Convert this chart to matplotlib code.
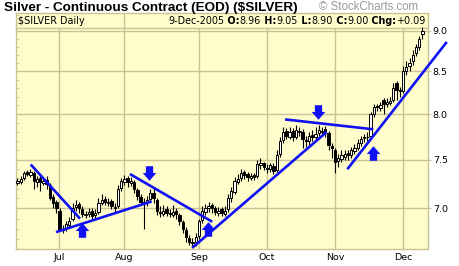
import matplotlib
matplotlib.use("Agg")
import matplotlib.pyplot as plt
import numpy as np
import pandas as pd
from matplotlib.path import Path

# ---------------- data ----------------
start_date = "2005-06-14"
end_date = "2005-12-09"
holidays = ["2005-07-04", "2005-09-05", "2005-11-24"]

opens = [7.26, 7.27, 7.31, 7.37, 7.34, 7.36, 7.27, 7.31, 7.26, 7.29,
         7.24, 7.11, 7.06, 6.98, 6.79, 6.81, 6.84, 6.90, 7.01, 7.04,
         6.99, 6.94, 6.95, 6.98, 6.94, 6.97, 7.05, 7.09, 7.05, 7.07,
         7.01, 7.02, 7.21, 7.27, 7.31, 7.26, 7.27, 7.19, 7.11, 7.06,
         7.06, 7.09, 7.16, 7.08, 6.97, 6.95, 6.99, 6.96, 6.94, 6.98,
         6.94, 6.87, 6.79, 6.71, 6.68, 6.68, 6.73, 6.89, 6.97, 7.00,
         7.03, 7.00, 6.96, 6.99, 6.95, 6.99, 7.10, 7.17, 7.27, 7.31,
         7.37, 7.35, 7.31, 7.34, 7.33, 7.44, 7.46, 7.41, 7.40, 7.43,
         7.39, 7.56, 7.71, 7.81, 7.75, 7.81, 7.75, 7.81, 7.80, 7.71,
         7.70, 7.77, 7.74, 7.79, 7.81, 7.83, 7.79, 7.65, 7.60, 7.49,
         7.51, 7.53, 7.57, 7.55, 7.59, 7.63, 7.68, 7.73, 7.74, 7.76,
         8.00, 8.09, 8.07, 8.16, 8.12, 8.13, 8.16, 8.36, 8.28, 8.26,
         8.50, 8.56, 8.62, 8.72, 8.80, 8.96]
highs = [7.31, 7.33, 7.38, 7.39, 7.40, 7.38, 7.33, 7.34, 7.31, 7.33,
         7.26, 7.14, 7.08, 7.00, 6.84, 6.88, 6.92, 7.05, 7.08, 7.06,
         7.02, 6.98, 7.00, 7.00, 6.99, 7.10, 7.14, 7.12, 7.10, 7.09,
         7.05, 7.24, 7.31, 7.34, 7.33, 7.32, 7.29, 7.21, 7.14, 7.10,
         7.12, 7.20, 7.22, 7.10, 7.02, 7.03, 7.02, 6.99, 7.03, 7.00,
         6.96, 6.89, 6.82, 6.74, 6.71, 6.76, 6.90, 7.02, 7.04, 7.06,
         7.05, 7.02, 7.01, 7.01, 7.02, 7.14, 7.22, 7.32, 7.35, 7.40,
         7.39, 7.37, 7.36, 7.36, 7.50, 7.52, 7.48, 7.45, 7.47, 7.46,
         7.60, 7.74, 7.86, 7.84, 7.85, 7.84, 7.88, 7.86, 7.83, 7.76,
         7.80, 7.82, 7.85, 7.88, 7.86, 7.87, 7.81, 7.68, 7.62, 7.56,
         7.60, 7.60, 7.60, 7.64, 7.67, 7.72, 7.76, 7.78, 7.80, 8.02,
         8.12, 8.12, 8.14, 8.18, 8.18, 8.20, 8.36, 8.38, 8.31, 8.56,
         8.62, 8.66, 8.76, 8.84, 8.94, 9.05]
lows = [7.24, 7.25, 7.29, 7.33, 7.32, 7.20, 7.22, 7.18, 7.24, 7.20,
        7.08, 7.00, 6.96, 6.78, 6.76, 6.78, 6.82, 6.88, 6.98, 6.96,
        6.92, 6.91, 6.92, 6.90, 6.91, 6.95, 7.03, 7.03, 7.02, 6.99,
        6.97, 7.00, 7.18, 7.24, 7.22, 7.23, 7.15, 7.08, 7.03, 6.80,
        7.02, 7.06, 7.05, 6.94, 6.92, 6.93, 6.93, 6.92, 6.92, 6.90,
        6.84, 6.76, 6.68, 6.65, 6.63, 6.64, 6.70, 6.86, 6.94, 6.97,
        6.96, 6.94, 6.93, 6.93, 6.93, 6.97, 7.06, 7.14, 7.25, 7.28,
        7.30, 7.28, 7.29, 7.29, 7.31, 7.40, 7.39, 7.36, 7.37, 7.35,
        7.37, 7.53, 7.68, 7.72, 7.72, 7.70, 7.72, 7.76, 7.62, 7.64,
        7.66, 7.70, 7.70, 7.76, 7.76, 7.75, 7.60, 7.52, 7.36, 7.42,
        7.48, 7.50, 7.50, 7.52, 7.56, 7.60, 7.65, 7.69, 7.70, 7.74,
        7.97, 8.04, 8.04, 8.00, 8.08, 8.10, 8.14, 8.16, 8.20, 8.24,
        8.45, 8.50, 8.58, 8.68, 8.76, 8.90]
closes = [7.28, 7.30, 7.36, 7.35, 7.37, 7.28, 7.30, 7.27, 7.28, 7.25,
          7.10, 7.05, 7.00, 6.80, 6.80, 6.85, 6.88, 7.00, 7.03, 7.00,
          6.95, 6.95, 6.97, 6.93, 6.96, 7.05, 7.08, 7.06, 7.06, 7.02,
          7.00, 7.20, 7.28, 7.30, 7.27, 7.28, 7.20, 7.12, 7.06, 7.05,
          7.08, 7.15, 7.10, 6.98, 6.96, 6.98, 6.96, 6.95, 6.97, 6.95,
          6.88, 6.80, 6.72, 6.68, 6.67, 6.72, 6.88, 6.98, 7.00, 7.02,
          7.00, 6.97, 6.98, 6.96, 6.98, 7.10, 7.18, 7.28, 7.30, 7.36,
          7.34, 7.32, 7.33, 7.32, 7.45, 7.47, 7.42, 7.40, 7.44, 7.38,
          7.55, 7.70, 7.80, 7.76, 7.80, 7.74, 7.82, 7.80, 7.72, 7.70,
          7.76, 7.75, 7.78, 7.82, 7.80, 7.80, 7.66, 7.62, 7.48, 7.52,
          7.55, 7.56, 7.55, 7.60, 7.62, 7.68, 7.72, 7.74, 7.75, 8.00,
          8.08, 8.08, 8.10, 8.11, 8.14, 8.15, 8.30, 8.28, 8.26, 8.50,
          8.55, 8.60, 8.70, 8.80, 8.90, 9.00]

month_labels = ["Jul", "Aug", "Sep", "Oct", "Nov", "Dec"]
price_ticks = [7.0, 7.5, 8.0, 8.5, 9.0]
price_tick_labels = ["7.0", "7.5", "8.0", "8.5", "9.0"]

# trend lines: (trading-day index, price) start -> end
trend_x0 = [4.07, 11.9, 34.7, 53.9, 82.6, 101.8]
trend_y0 = [7.45, 6.77, 7.35, 6.62, 7.94, 7.40]
trend_x1 = [19.3, 41.4, 60.1, 95.4, 109.8, 132.5]
trend_y1 = [6.90, 7.07, 6.87, 7.80, 7.83, 8.86]

# arrows: (trading-day index, price, direction)
arrow_x = [19.8, 40.7, 58.9, 92.7, 109.6]
arrow_y = [6.79, 7.36, 6.80, 8.02, 7.57]
arrow_dir = ["up", "down", "up", "down", "up"]

title = "Silver - Continuous Contract (EOD) (\\$SILVER)"
header_left = "\\$SILVER Daily"
header_parts = [("9-Dec-2005", "normal"), (" O:", "bold"), ("8.96", "normal"),
                (" H:", "bold"), ("9.05", "normal"), (" L:", "bold"), ("8.90", "normal"),
                (" C:", "bold"), ("9.00", "normal"), (" Chg:", "bold"), ("+0.09", "normal")]

# ---------------- figure ----------------
dates = pd.bdate_range(start_date, end_date)
dates = dates[~dates.isin(pd.to_datetime(holidays))]
n = len(dates)
idx = np.arange(n)

W, H = 460, 266
fig = plt.figure(figsize=(W / 100, H / 100), dpi=100)
fig.patch.set_facecolor("white")

L, R, T, B = 16, 428, 13, 249
ax = fig.add_axes([L / W, (H - B) / H, (R - L) / W, (B - T) / H])
bg = "#FFFDCC"
grid = "#CBC394"
ax.set_facecolor(bg)
ax.set_yscale("log")
ax.set_xlim(-0.46, 126.7)
ax.set_ylim(6.61, 9.23)

hdr = (B - 28) / (B - T)

# month gridlines
month_starts = []
for m in range(7, 13):
    first = np.where((dates.month == m))[0][0]
    month_starts.append(first)
for k, ms in enumerate(month_starts):
    ax.axvline(ms - 0.1, ymin=0, ymax=(1.0 if k == 1 else hdr), color=grid, lw=1.0, zorder=1)
for p in price_ticks:
    ax.axhline(p, color=grid, lw=1.0, zorder=1)
ax.plot([0, 1], [hdr, hdr], transform=ax.transAxes, color=grid, lw=1.0, zorder=1, clip_on=False)

# candles
o = np.array(opens); h = np.array(highs); l = np.array(lows); c = np.array(closes)
ax.vlines(idx, l, h, color="black", lw=0.8, zorder=3)
up = c >= o
bot = np.minimum(o, c)
top = np.maximum(o, c)
ax.bar(idx[up], top[up] - bot[up], bottom=bot[up], width=0.72, facecolor="white",
       edgecolor="black", lw=0.7, zorder=4)
ax.bar(idx[~up], top[~up] - bot[~up], bottom=bot[~up], width=0.72, facecolor="black",
       edgecolor="black", lw=0.7, zorder=4)

# trend lines
blue = "#1010F5"
for x0, y0, x1, y1 in zip(trend_x0, trend_y0, trend_x1, trend_y1):
    ax.plot([x0, x1], [y0, y1], color=blue, lw=1.9, zorder=5, clip_on=False,
            solid_capstyle="butt")

# arrows
up_verts = [(-3.5, -7), (3.5, -7), (3.5, -0.5), (6.5, -0.5), (0, 7), (-6.5, -0.5), (-3.5, -0.5), (-3.5, -7)]
up_path = Path(up_verts, closed=True)
down_path = Path([(vx, -vy) for vx, vy in up_verts], closed=True)
for ax_, ay_, d in zip(arrow_x, arrow_y, arrow_dir):
    ax.plot([ax_], [ay_], marker=(up_path if d == "up" else down_path), markersize=10.5,
            color=blue, markeredgewidth=0, linestyle="none", zorder=6)

# axes styling
for s in ax.spines.values():
    s.set_color(grid)
    s.set_linewidth(1.0)
ax.set_xticks(month_starts)
ax.set_xticklabels(month_labels)
ax.tick_params(axis="x", length=0, pad=3, labelsize=6.8, colors="black")
ax.yaxis.set_major_locator(matplotlib.ticker.FixedLocator(price_ticks))
ax.yaxis.set_major_formatter(matplotlib.ticker.FixedFormatter(price_tick_labels))
ax.yaxis.set_minor_locator(matplotlib.ticker.FixedLocator(np.arange(6.7, 9.25, 0.1)))
ax.yaxis.set_minor_formatter(matplotlib.ticker.NullFormatter())
ax.tick_params(axis="y", which="major", left=False, right=True, labelleft=False, labelright=True,
               length=2, direction="out", color=grid, labelsize=6.8, pad=1.5)
ax.tick_params(axis="y", which="minor", left=True, right=False, length=2.5, direction="in",
               color=grid)
for lbl in ax.get_xticklabels() + ax.get_yticklabels():
    lbl.set_family("DejaVu Sans")

# header texts
hfs = 6.95
ax.text(1.5 / (R - L), (B - 20.5) / (B - T), header_left, transform=ax.transAxes,
        fontsize=hfs, family="DejaVu Sans", va="center", ha="left", zorder=7)
prev = None
for txt, wt in reversed(header_parts):
    if prev is None:
        prev = ax.text((426 - L) / (R - L), (B - 20.5) / (B - T), txt, transform=ax.transAxes,
                       fontsize=hfs, family="DejaVu Sans", fontweight=wt,
                       va="center", ha="right", zorder=7)
    else:
        prev = ax.annotate(txt, xy=(0, 0), xycoords=prev, fontsize=hfs, family="DejaVu Sans",
                           fontweight=wt, va="bottom", ha="right", zorder=7)

fig.text(4 / W, 1 - 7.5 / H, title, fontsize=9.7, fontweight="bold",
         family="Liberation Sans", va="center", ha="left")
fig.text(418 / W, 1 - 7.5 / H, "© StockCharts.com", fontsize=8.3, color="#9A9A9A",
         family="Liberation Sans", va="center", ha="right")

fig.savefig("out.png", dpi=100, facecolor="white")
